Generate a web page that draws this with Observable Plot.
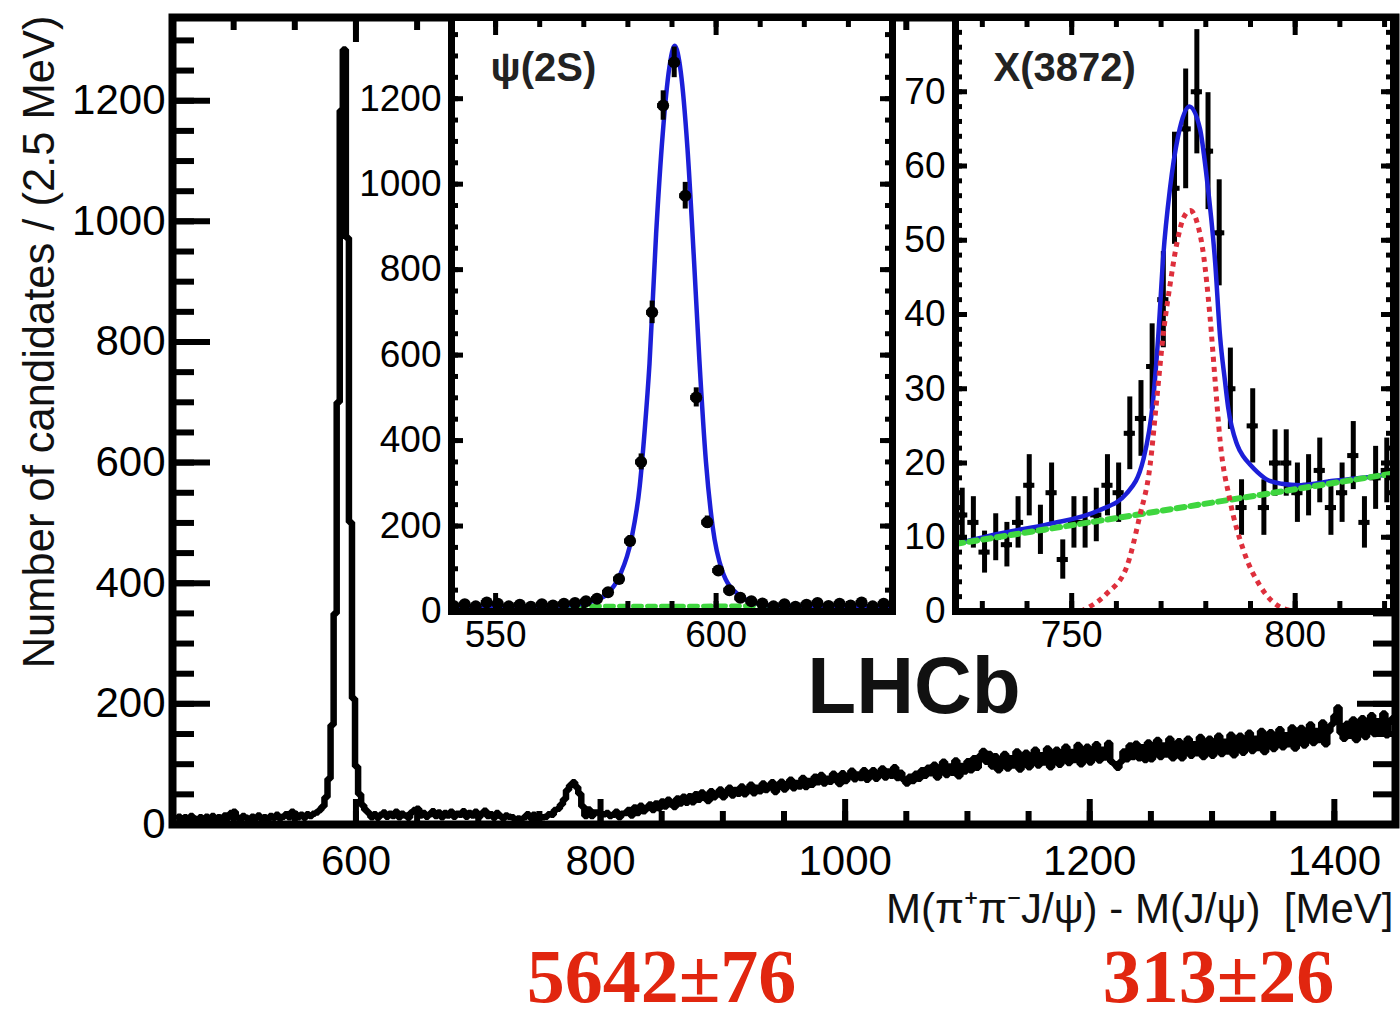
<!DOCTYPE html>
<html>
<head>
<meta charset="utf-8">
<script src="https://cdn.jsdelivr.net/npm/d3@7"></script>
<script src="https://cdn.jsdelivr.net/npm/@observablehq/plot@0.6"></script>
<style>
  body { margin: 0; background: #fff; }
  #chart { position: relative; width: 1400px; height: 1018px; overflow: hidden; background: #fff; }
  #chart svg { position: absolute; max-width: none; }
</style>
</head>
<body>
<div id="chart"></div>
<script>
// ΔM = M(π+π−J/ψ) − M(J/ψ) spectrum, candidates per 2.5 MeV bin
const binWidth = 2.5;
const firstBinCenter = 453;
const counts = [
  // 453 – 475.5
  9, 13, 7, 12, 8, 14, 10, 6, 12, 9,
  // 478 – 500.5
  13, 8, 14, 10, 12, 7, 15, 11, 19, 21,
  // 503 – 525.5
  12, 8, 14, 11, 7, 13, 10, 15, 9, 12,
  // 528 – 550.5
  8, 14, 11, 16, 10, 13, 17, 12, 21, 18,
  // 553 – 575.5
  12, 16, 11, 17, 14, 18, 20, 24, 30, 45,
  // 578 – 608 : psi(2S)
  76, 165, 350, 700, 1184, 1285, 973, 501, 209, 96, 50, 32, 24,
  // 610.5 – 633
  19, 12, 17, 11, 16, 20, 13, 18, 14, 21,
  // 635.5 – 658
  12, 18, 15, 11, 20, 24, 26, 15, 19, 13,
  // 660.5 – 683
  17, 22, 14, 20, 12, 19, 15, 21, 13, 18,
  // 685.5 – 708
  16, 22, 13, 19, 15, 21, 12, 18, 23, 14,
  // 710.5 – 723
  17, 11, 19, 14, 10, 15,
  // 725.5 – 748
  13, 12, 8, 10, 9, 12, 17, 11, 16, 7,
  // 750.5 – 773
  12, 12, 13, 17, 16, 24, 26, 33, 42, 57,
  // 775.5 – 798 : X(3872)
  65, 70, 62, 51, 30, 14, 25, 14, 20, 20,
  // 800.5 – 820.5
  16, 17, 19, 14, 16, 21, 12, 18, 19,
  // 823 – 845.5
  24, 15, 28, 19, 31, 22, 27, 33, 24, 35,
  // 848 – 870.5
  27, 38, 30, 41, 33, 29, 43, 35, 46, 36,
  // 873 – 895.5
  47, 37, 50, 41, 53, 44, 39, 55, 45, 52,
  // 898 – 920.5
  58, 45, 54, 61, 48, 57, 51, 63, 50, 59,
  // 923 – 945.5
  66, 52, 61, 55, 68, 57, 64, 70, 54, 62,
  // 948 – 970.5
  71, 58, 67, 74, 60, 69, 63, 77, 62, 72,
  // 973 – 995.5
  66, 79, 70, 82, 68, 76, 71, 84, 73, 67,
  // 998 – 1020.5
  85, 72, 80, 89, 75, 83, 77, 90, 74, 82,
  // 1023 – 1045.5
  90, 76, 85, 93, 78, 88, 81, 95, 77, 86,
  // 1048 – 1070.5
  74, 68, 79, 72, 84, 76, 90, 81, 94, 85,
  // 1073 – 1095.5
  99, 78, 93, 104, 82, 96, 86, 106, 80, 97,
  // 1098 – 1120.5
  88, 105, 90, 110, 94, 114, 122, 104, 117, 96,
  // 1123 – 1145.5
  113, 90, 106, 117, 93, 110, 98, 121, 91, 108,
  // 1148 – 1170.5
  119, 95, 112, 124, 98, 115, 103, 126, 95, 113,
  // 1173 – 1195.5
  124, 99, 117, 129, 102, 120, 107, 132, 100, 118,
  // 1198 – 1220.5
  129, 103, 122, 133, 106, 124, 111, 135, 104, 100,
  // 1223 – 1245.5
  94, 104, 121, 108, 131, 112, 134, 110, 128, 107,
  // 1248 – 1270.5
  136, 108, 128, 140, 112, 131, 116, 142, 110, 129,
  // 1273 – 1295.5
  138, 110, 130, 142, 114, 133, 118, 145, 112, 131,
  // 1298 – 1320.5
  142, 114, 134, 147, 117, 137, 121, 149, 115, 135,
  // 1323 – 1345.5
  147, 119, 139, 152, 122, 142, 127, 155, 120, 141,
  // 1348 – 1370.5
  153, 125, 145, 158, 128, 148, 133, 161, 126, 147,
  // 1373 – 1395.5
  160, 131, 152, 166, 135, 155, 140, 169, 133, 154,
  // 1398 – 1420.5
  166, 180, 194, 152, 142, 167, 147, 174, 140, 164,
  // 1423 – 1445.5
  176, 145, 167, 181, 150, 171, 155, 184, 148, 170,
  // 1448
  176
];

// psi(2S) fit: total (signal + background) and background
const psiFitMass  = [540, 555, 565, 569, 572, 575.2, 578.2, 580.8, 582.7, 583.8, 584.9, 586.4, 587.9, 589.4, 590.6, 592.0, 593.5, 595.0, 596.2, 597.7, 599.2, 601.4, 605.2, 608.9, 613, 620, 640];
const psiFitCount = [12, 12, 14, 17, 24, 40, 85, 170, 295, 423, 580, 884, 1118, 1273, 1324, 1262, 1085, 820, 590, 350, 200, 95, 38, 20, 14, 13, 13];
const psiBkgMass  = [540, 640];
const psiBkgCount = [12, 13];

// X(3872) fit: total, signal, background
const xFitMass  = [724, 734, 745, 756, 762.3, 766, 768.2, 769.4, 770.5, 772, 773.8, 776.3, 778.7, 780.2, 782.1, 783.2, 784.3, 785, 787, 788.5, 789.9, 791.5, 793.6, 797, 801.1, 808.6, 815, 822];
const xFitCount = [9.1, 10.5, 11.8, 13.6, 15.9, 20.4, 28.4, 37.4, 48, 57, 64, 68, 65, 58.5, 47, 37, 31, 27.5, 22.5, 20.8, 19.8, 18.8, 17.8, 17.2, 17.0, 17.6, 18, 18.6];
const xSigMass  = [752, 757.8, 762.3, 765.2, 767.5, 769, 770.5, 772, 773.5, 775, 776.5, 778, 779.5, 780.9, 782.1, 783.2, 785.4, 788.4, 792.2, 797.4, 801];
const xSigCount = [0, 2.4, 6, 12.8, 19.5, 28.4, 37.4, 44, 49.5, 53, 54, 52.5, 48, 40, 31, 23, 15, 8.3, 3.4, 0.4, 0];
const xBkgMass  = [724, 822];
const xBkgCount = [9.1, 18.6];

// axis tick labels
const mainXTicks = [600, 800, 1000, 1200, 1400];
const mainYTicks = [0, 200, 400, 600, 800, 1000, 1200];
const psiXTicks = [550, 600];
const psiYTicks = [0, 200, 400, 600, 800, 1000, 1200];
const xXTicks = [750, 800];
const xYTicks = [0, 10, 20, 30, 40, 50, 60, 70];

// texts
const yTitle = "Number of candidates / (2.5 MeV)";
const xTitle = "M(π⁺π⁻J/ψ) - M(J/ψ)  [MeV]";
const experiment = "LHCb";
const psiLabel = "ψ(2S)";
const xLabel = "X(3872)";
const yields = ["5642±76", "313±26"];

// ---------------------------------------------------------------
const FONT = "'Liberation Sans', Arial, Helvetica, sans-serif";
const SERIF = "'Liberation Serif', 'Times New Roman', serif";
const hist = counts.map((n, i) => ({m: firstBinCenter + i * binWidth, n}));
const zip = (xs, ys) => xs.map((m, i) => ({m, n: ys[i]}));
const fmt = d => `${d}`;

// ROOT-style inward ticks on all four sides of a frame of inner size w x h
function frameTicks(xValues, yValues, xLen, yLen, w, h, strokeWidth) {
  return [
    Plot.ruleX(xValues, {x: d => d, insetTop: h - xLen, strokeWidth, stroke: "#000"}),
    Plot.ruleX(xValues, {x: d => d, insetBottom: h - xLen, strokeWidth, stroke: "#000"}),
    Plot.ruleY(yValues, {y: d => d, insetRight: w - yLen, strokeWidth, stroke: "#000"}),
    Plot.ruleY(yValues, {y: d => d, insetLeft: w - yLen, strokeWidth, stroke: "#000"})
  ];
}

const chart = document.getElementById("chart");

// ---------- main spectrum ----------
const mainW = 1400, mainH = 1018;
const mainM = {left: 172, right: 5, top: 17, bottom: 194};
const mainIW = mainW - mainM.left - mainM.right;
const mainIH = mainH - mainM.top - mainM.bottom;

const mainPlot = Plot.plot({
  width: mainW, height: mainH,
  marginLeft: mainM.left, marginRight: mainM.right, marginTop: mainM.top, marginBottom: mainM.bottom,
  x: {domain: [450, 1450]},
  y: {domain: [0, 1338]},
  style: {fontFamily: FONT, background: "transparent", color: "#000"},
  marks: [
    Plot.line(hist, {x: "m", y: "n", curve: "step", stroke: "#000", strokeWidth: 6.5, strokeLinejoin: "miter", strokeLinecap: "butt"}),
    ...frameTicks(d3.range(450, 1451, 50), d3.range(0, 1338, 50), 13, 22, mainIW, mainIH, 6),
    ...frameTicks(mainXTicks, mainYTicks, 25, 38, mainIW, mainIH, 6),
    Plot.frame({stroke: "#000", strokeWidth: 8}),
    Plot.axisX(mainXTicks, {tickSize: 0, tickPadding: 21, fontSize: 42, tickFormat: fmt, label: null}),
    Plot.axisY(mainYTicks, {tickSize: 0, tickPadding: 7, fontSize: 42, tickFormat: fmt, label: null}),
    Plot.text([yTitle], {text: d => d, frameAnchor: "top-left", rotate: -90, textAnchor: "end", lineAnchor: "middle", dx: -132, dy: -2, fontSize: 43.5, fill: "#111"}),
    Plot.text([xTitle], {text: d => d, frameAnchor: "bottom-right", textAnchor: "end", lineAnchor: "bottom", dx: -2, dy: 98, fontSize: 42, fill: "#111"}),
    Plot.text([experiment], {text: d => d, frameAnchor: "bottom", textAnchor: "middle", lineAnchor: "bottom", dx: 130, dy: -112, fontSize: 80, fontWeight: "bold", fill: "#111"}),
    Plot.text([yields[0]], {text: d => d, frameAnchor: "bottom-left", textAnchor: "middle", lineAnchor: "bottom", dx: 489, dy: 177, fontSize: 76, fontWeight: "bold", fontFamily: SERIF, fill: "#e1260f"}),
    Plot.text([yields[1]], {text: d => d, frameAnchor: "bottom-left", textAnchor: "middle", lineAnchor: "bottom", dx: 1046, dy: 177, fontSize: 76, fontWeight: "bold", fontFamily: SERIF, fill: "#e1260f"})
  ]
});
mainPlot.style.left = "0px";
mainPlot.style.top = "0px";
chart.appendChild(mainPlot);

// ---------- insets ----------
const insetH = 660, insetTop = 17, insetBottom = 49;

function insetPlot({left, width, marginLeft, marginRight, xDomain, yDomain, xMajor, yMajor, xMinor, yMinor, marks}) {
  const w = width - marginLeft - marginRight;
  const h = insetH - insetTop - insetBottom;
  const svg = Plot.plot({
    width, height: insetH,
    marginLeft, marginRight, marginTop: insetTop, marginBottom: insetBottom,
    x: {domain: xDomain},
    y: {domain: yDomain},
    style: {fontFamily: FONT, background: "transparent", color: "#000"},
    marks: [
      Plot.frame({fill: "white", stroke: "none"}),
      ...marks,
      ...frameTicks(xMinor, yMinor, 10, 7, w, h, 5),
      ...frameTicks(xMajor, yMajor, 18, 12, w, h, 5),
      Plot.frame({stroke: "#000", strokeWidth: 7}),
      Plot.axisX(xMajor, {tickSize: 0, tickPadding: 9, fontSize: 37, tickFormat: fmt, label: null}),
      Plot.axisY(yMajor, {tickSize: 0, tickPadding: 10, fontSize: 37, tickFormat: fmt, label: null})
    ]
  });
  svg.style.left = `${left}px`;
  svg.style.top = "0px";
  return svg;
}

// data points with Poisson error bars and bin-width bars
function dataMarks(points, {strokeWidth, r}) {
  const marks = [
    Plot.ruleX(points, {x: "m", y1: d => d.n - Math.sqrt(d.n), y2: d => d.n + Math.sqrt(d.n), stroke: "#000", strokeWidth, clip: true}),
    Plot.ruleY(points, {y: "n", x1: d => d.m - binWidth / 2, x2: d => d.m + binWidth / 2, stroke: "#000", strokeWidth, clip: true})
  ];
  if (r) marks.push(Plot.dot(points, {x: "m", y: "n", r, fill: "#000", stroke: "none", clip: true}));
  return marks;
}

const BLUE = "#1c1fd8", RED = "#de2f3c", GREEN = "#3fd63f";

// psi(2S) inset
const psiDomain = [540, 640];
const psiPoints = hist.filter(d => d.m >= psiDomain[0] - binWidth && d.m <= psiDomain[1] + binWidth);
chart.appendChild(insetPlot({
  left: 360, width: 540, marginLeft: 91, marginRight: 8,
  xDomain: psiDomain, yDomain: [0, 1390],
  xMajor: psiXTicks, yMajor: psiYTicks,
  xMinor: d3.range(540, 641, 10), yMinor: d3.range(0, 1390, 50),
  marks: [
    Plot.line(zip(psiBkgMass, psiBkgCount), {x: "m", y: "n", stroke: GREEN, strokeWidth: 5, strokeDasharray: "8,6", clip: true}),
    Plot.line(zip(psiFitMass, psiFitCount), {x: "m", y: "n", curve: "monotone-x", stroke: BLUE, strokeWidth: 4.5, clip: true}),
    ...dataMarks(psiPoints, {strokeWidth: 5, r: 6}),
    Plot.text([psiLabel], {text: d => d, frameAnchor: "top-left", textAnchor: "start", lineAnchor: "bottom", dx: 39, dy: 63, fontSize: 40, fontWeight: "bold", fill: "#222"})
  ]
}));

// X(3872) inset
const xDomain = [724, 822];
const xPoints = hist.filter(d => d.m >= xDomain[0] - binWidth && d.m <= xDomain[1] + binWidth);
chart.appendChild(insetPlot({
  left: 880, width: 520, marginLeft: 75, marginRight: 7,
  xDomain, yDomain: [0, 80],
  xMajor: xXTicks, yMajor: xYTicks,
  xMinor: d3.range(730, 822, 10), yMinor: d3.range(0, 80, 2),
  marks: [
    ...dataMarks(xPoints, {strokeWidth: 5, r: 3.5}),
    Plot.line(zip(xFitMass, xFitCount), {x: "m", y: "n", curve: "monotone-x", stroke: BLUE, strokeWidth: 4.5, clip: true}),
    Plot.line(zip(xBkgMass, xBkgCount), {x: "m", y: "n", stroke: GREEN, strokeWidth: 6, strokeDasharray: "8,6", clip: true}),
    Plot.line(zip(xSigMass, xSigCount), {x: "m", y: "n", curve: "monotone-x", stroke: RED, strokeWidth: 5, strokeDasharray: "5,5", strokeLinecap: "butt", clip: true}),
    Plot.text([xLabel], {text: d => d, frameAnchor: "top-left", textAnchor: "start", lineAnchor: "bottom", dx: 38, dy: 63, fontSize: 40, fontWeight: "bold", fill: "#222"})
  ]
}));
</script>
</body>
</html>
